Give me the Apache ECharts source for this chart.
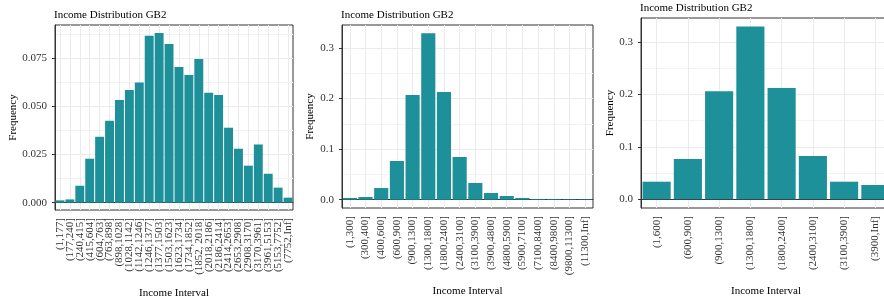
<!DOCTYPE html>
<html>
<head>
<meta charset="utf-8">
<script src="https://cdn.jsdelivr.net/npm/echarts@6/dist/echarts.min.js"></script>
<style>
  html, body { margin: 0; padding: 0; background: #fff; }
  #chart { width: 884px; height: 303px; }
</style>
</head>
<body>
<div id="chart"></div>
<script>
// panel 1 - fine bins
const cats1 = ['(1,177]', '(177,240]', '(240,415]', '(415,604]', '(604,763]', '(763,898]',
  '(898,1028]', '(1028,1142]', '(1142,1246]', '(1246,1377]', '(1377,1503]', '(1503,1623]',
  '(1623,1734]', '(1734,1852]', '(1852, 2018]', '(2018,2186]', '(2186,2414]', '(2414,2653]',
  '(2653,2908]', '(2908,3170]', '(3170,3961]', '(3961,5153]', '(5153,7752]', '(7752,Inf]'];
const freq1 = [0.0012, 0.0017, 0.0088, 0.0228, 0.0342, 0.0425, 0.0533, 0.0585, 0.0623, 0.0866,
  0.0880, 0.0823, 0.0704, 0.0663, 0.0745, 0.0571, 0.0559, 0.0389, 0.0280, 0.0192, 0.0302,
  0.0150, 0.0078, 0.0026];
const ticks1 = [0, 0.025, 0.05, 0.075];

// panel 2 - 16 bins
const cats2 = ['(1,300]', '(300,400]', '(400,600]', '(600,900]', '(900,1300]', '(1300,1800]',
  '(1800,2400]', '(2400,3100]', '(3100,3900]', '(3900,4800]', '(4800,5900]', '(5900,7100]',
  '(7100,8400]', '(8400,9800]', '(9800,11300]', '(11300,Inf]'];
const freq2 = [0.0034, 0.0053, 0.023, 0.0765, 0.207, 0.329, 0.213, 0.0844, 0.033, 0.0132,
  0.0073, 0.0034, 0.0014, 0.0014, 0.0010, 0.0010];
const ticks2 = [0, 0.1, 0.2, 0.3];

// panel 3 - 8 bins
const cats3 = ['(1,600]', '(600,900]', '(900,1300]', '(1300,1800]', '(1800,2400]',
  '(2400,3100]', '(3100,3900]', '(3900,Inf]'];
const freq3 = [0.0335, 0.0768, 0.206, 0.329, 0.212, 0.0825, 0.0335, 0.0272];
const ticks3 = [0, 0.1, 0.2, 0.3];

const FONT = "'Liberation Serif', 'Times New Roman', serif";
const BAR = '#1E9099';
const DARK = '#333333';

const panels = [
  { cats: cats1, freq: freq1, ticks: ticks1, step: 0.025, digits: 3, min: -0.0038, max: 0.0922,
    grid: { left: 55, top: 25, width: 238, height: 185 }, titleTop: 10, yGap: 36 },
  { cats: cats2, freq: freq2, ticks: ticks2, step: 0.1, digits: 1, min: -0.0165, max: 0.3455,
    grid: { left: 342, top: 25, width: 251, height: 183 }, titleTop: 10, yGap: 26 },
  { cats: cats3, freq: freq3, ticks: ticks3, step: 0.1, digits: 1, min: -0.0166, max: 0.3453,
    grid: { left: 641, top: 18, width: 250, height: 190 }, titleTop: 3, yGap: 25 }
];

const option = {
  animation: false,
  backgroundColor: '#fff',
  title: [], grid: [], xAxis: [], yAxis: [], series: []
};

panels.forEach((p, i) => {
  option.title.push({
    text: 'Income Distribution GB2',
    left: p.grid.left - 1, top: p.titleTop, padding: 0,
    textStyle: { fontFamily: FONT, fontSize: 11, fontWeight: 'normal', color: '#000' }
  });
  option.grid.push(Object.assign({
    show: true, borderColor: DARK, borderWidth: 1,
    containLabel: false, outerBoundsMode: 'none'
  }, p.grid));
  option.xAxis.push({
    type: 'category', gridIndex: i, data: p.cats,
    name: 'Income Interval', nameLocation: 'middle', nameGap: 78,
    nameTextStyle: { fontFamily: FONT, fontSize: 11, color: '#000' },
    axisLine: { lineStyle: { color: DARK, width: 1 } },
    axisTick: { alignWithLabel: true, interval: 0, length: 3, lineStyle: { color: DARK } },
    axisLabel: { interval: 0, rotate: 90, margin: 8, fontFamily: FONT, fontSize: 11, color: '#333' },
    splitLine: { show: true, alignWithLabel: true, interval: 0, lineStyle: { color: '#EBEBEB', width: 1 } }
  });
  option.yAxis.push({
    type: 'value', gridIndex: i, min: p.min, max: p.max,
    minInterval: p.step, maxInterval: p.step,
    name: 'Frequency', nameLocation: 'middle', nameGap: p.yGap,
    nameTextStyle: { fontFamily: FONT, fontSize: 11, color: '#000' },
    axisLine: { show: true, lineStyle: { color: DARK, width: 1 } },
    axisTick: { show: true, length: 3, customValues: p.ticks, lineStyle: { color: DARK } },
    axisLabel: {
      margin: 8, customValues: p.ticks, fontFamily: FONT, fontSize: 11, color: '#333',
      formatter: v => v.toFixed(p.digits)
    },
    splitLine: { show: true, lineStyle: { color: '#EBEBEB', width: 1 } },
    minorTick: { show: false, splitNumber: 2 },
    minorSplitLine: { show: true, lineStyle: { color: '#F3F3F3', width: 1 } }
  });
  option.series.push({
    type: 'bar', xAxisIndex: i, yAxisIndex: i, data: p.freq,
    barCategoryGap: '10%', itemStyle: { color: BAR }
  });
});

const chart = echarts.init(document.getElementById('chart'), null, { renderer: 'canvas' });
chart.setOption(option);
</script>
</body>
</html>
